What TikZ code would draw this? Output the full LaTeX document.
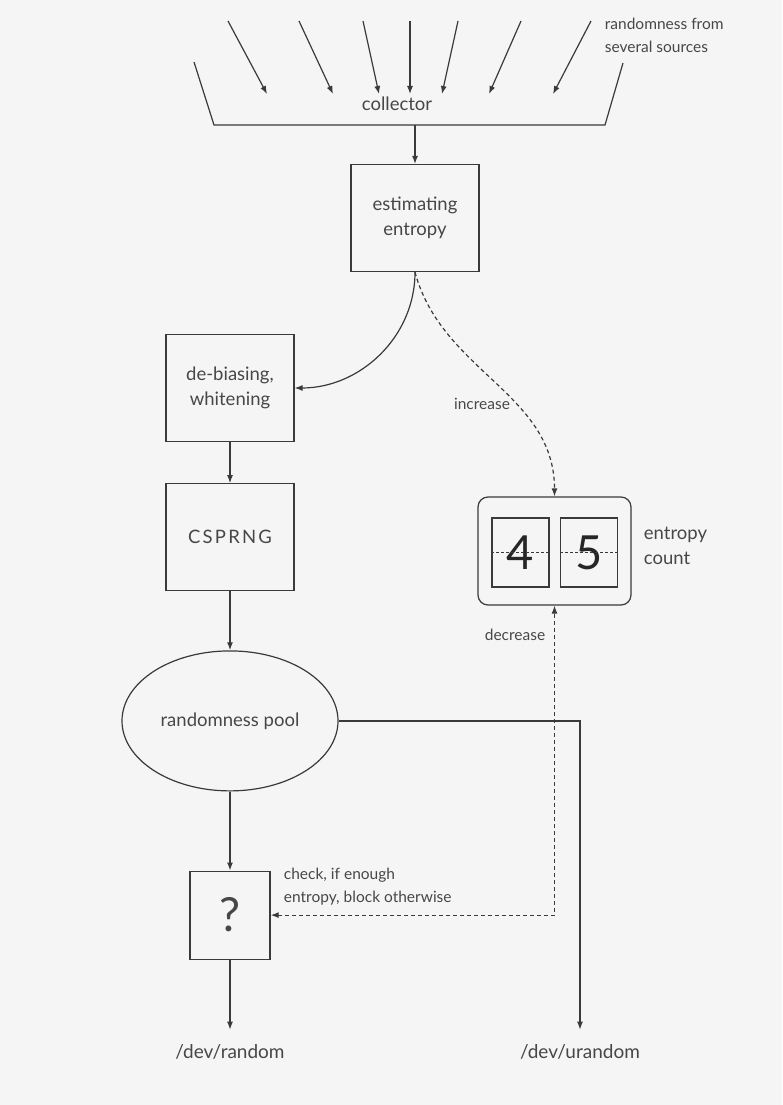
\documentclass[tikz,border=0pt]{standalone}
\usepackage{fontspec}
\setmainfont{Lato}
\usetikzlibrary{arrows.meta,positioning,shapes.geometric}
\definecolor{ink}{HTML}{3A3A3A}
\definecolor{txt}{HTML}{474747}
\definecolor{paper}{HTML}{F5F5F5}
\newcommand\bigtxt{\fontsize{18.5}{25}\selectfont}
\newcommand\smalltxt{\fontsize{15.5}{23}\selectfont}

\begin{document}
\begin{tikzpicture}[x=1pt,y=-1pt,>={Latex[length=8pt,width=6pt]},node distance=41pt,
    color=ink,line width=1.2pt,
    box/.style={draw,minimum width=128pt,minimum height=107pt,text=txt,font=\bigtxt,align=center},
    tag/.style={text=txt,font=\bigtxt},
    note/.style={text=txt,font=\smalltxt},
    digit/.style={draw,minimum width=57pt,minimum height=69pt,inner sep=0pt,text=black!85,font=\fontsize{47}{47}\selectfont},
    dotline/.style={dash pattern=on 4pt off 3pt}]
    \fill[paper] (0,0) rectangle (782,1105);
    % sources into the collector
    \foreach \a/\b in {228/267,299/333,363/379,410/410,458/442,521/489,591/553}
        \draw[->] (\a,21) -- (\b,94);
    \node[note,align=left,anchor=west] (src) at (601,35) {randomness from\\several sources};
    \draw (194,62) -- (214,125) -- (605,125) -- (623,63);
    \node[tag] (coll) at (397,104) {collector};
    \coordinate (cout) at (415,125);
    % left column
    \node[box] (est) at (415,218) {estimating\\entropy};
    \node[box] (debias) at (230,388) {de-biasing,\\whitening};
    \node[box,below=of debias] (csprng) {\addfontfeature{LetterSpace=12}CSPRNG};
    \node[ellipse,draw,minimum width=216pt,minimum height=140pt,text=txt,font=\bigtxt,below=59pt of csprng] (pool) {randomness pool};
    \node[box,minimum width=80pt,minimum height=88pt,below=79pt of pool,font=\fontsize{47}{47}\selectfont] (check) {?};
    \node[tag,font=\fontsize{19}{22}\selectfont] (rand) at (230,1052) {/dev/random};
    \node[tag,font=\fontsize{19}{22}\selectfont] (urand) at (580,1052) {/dev/urandom};
    % entropy count
    \node[draw,rounded corners=10pt,minimum width=153pt,minimum height=108pt] (count) at (554.5,551) {};
    \node[digit] (d4) at (520.5,552.5) {4};
    \node[digit] (d5) at (589,552.5) {5};
    \draw[thin,dash pattern=on 3pt off 2pt] (d4.west) -- (d4.east);
    \draw[thin,dash pattern=on 3pt off 2pt] (d5.west) -- (d5.east);
    \node[tag,align=left,anchor=west] (cntlbl) at (640,546) {entropy\\count};
    \node[note] (inc) at (482,404) {increase};
    \node[note] (dec) at (515,635) {decrease};
    \node[note,align=left,anchor=west] (chk) at (280,887) {check, if enough\\entropy, block otherwise};
    % connectors
    \draw[->] (cout) -- (est);
    \draw[->] (est.south) to[out=-90,in=0] (debias.east);
    \draw[->,dotline] (est.south) to[out=-75,in=90] (count.north);
    \draw[->] (debias) -- (csprng);
    \draw[->] (csprng) -- (pool);
    \draw[->] (pool) -- (check);
    \draw[->,shorten >=11pt] (check) -- (rand);
    \draw[->,shorten >=11pt] (pool.east) -| (urand.north);
    \draw[<->,dotline] (check.east) -| (count.south);
\end{tikzpicture}
\end{document}
